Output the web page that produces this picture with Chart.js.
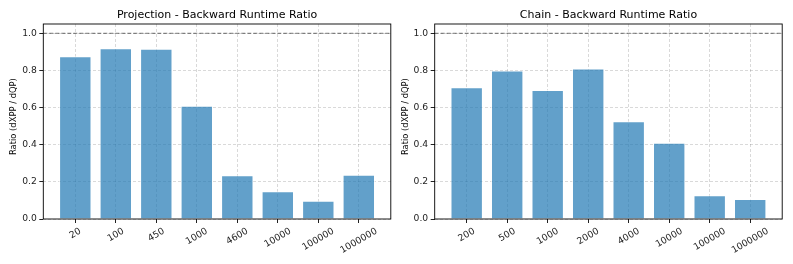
<!DOCTYPE html>
<html>
<head>
<meta charset="UTF-8">
<title>Backward Runtime Ratio</title>
<script src="https://cdn.jsdelivr.net/npm/chart.js"></script>
<style>
  body { margin: 0; background: #fff; }
  .panel { position: absolute; top: 0; }
</style>
</head>
<body>
<div class="panel" style="left:0"><canvas id="projChart" width="396" height="264"></canvas></div>
<div class="panel" style="left:391px"><canvas id="chainChart" width="402" height="264"></canvas></div>
<script>
// values
const projSizes = ['20', '100', '450', '1000', '4600', '10000', '100000', '1000000'];
const projRatio = [0.877, 0.920, 0.917, 0.610, 0.235, 0.150, 0.098, 0.238];
const chainSizes = ['200', '500', '1000', '2000', '4000', '10000', '100000', '1000000'];
const chainRatio = [0.710, 0.800, 0.695, 0.810, 0.527, 0.410, 0.128, 0.108];
const yTicks = [0, 0.2, 0.4, 0.6, 0.8, 1.0];
const refRatio = 1.0;
const yMax = 1.05;
const yTitle = 'Ratio (dXPP / dQP)';

const FONT = '"DejaVu Sans", sans-serif';
const TICK_SIZE = 9.2;
const LABEL_SIZE = 8.4;

// matplotlib-like box around the axes
const framePlugin = {
  id: 'frame',
  afterDraw(chart) {
    const { ctx, chartArea: a } = chart;
    ctx.save();
    ctx.strokeStyle = '#000';
    ctx.lineWidth = 0.9;
    ctx.strokeRect(a.left, a.top, a.right - a.left, a.bottom - a.top);
    ctx.restore();
  }
};

// dashed reference line at ratio 1.0
const refLinePlugin = {
  id: 'refLine',
  afterDatasetsDraw(chart) {
    const { ctx, chartArea: a } = chart;
    const y = chart.scales.y.getPixelForValue(refRatio);
    ctx.save();
    ctx.strokeStyle = 'rgba(0,0,0,0.55)';
    ctx.lineWidth = 1;
    ctx.setLineDash([4, 2]);
    ctx.beginPath();
    ctx.moveTo(a.left, y);
    ctx.lineTo(a.right, y);
    ctx.stroke();
    ctx.restore();
  }
};

// rotated x labels centred on the tick, plus the y title
const labelPlugin = {
  id: 'axisLabels',
  afterDraw(chart) {
    const ctx = chart.ctx;
    const xs = chart.scales.x;
    const a = chart.chartArea;
    const ang = Math.PI / 6;
    ctx.save();
    ctx.font = TICK_SIZE + 'px ' + FONT;
    ctx.fillStyle = '#222';
    ctx.textAlign = 'center';
    ctx.textBaseline = 'middle';
    chart.data.labels.forEach((lab, i) => {
      const w = ctx.measureText(lab).width;
      const h = TICK_SIZE * 1.16;
      const boxH = w * Math.sin(ang) + h * Math.cos(ang);
      ctx.save();
      ctx.translate(xs.getPixelForValue(i), a.bottom + 7 + boxH / 2);
      ctx.rotate(-ang);
      ctx.fillText(lab, 0, 0);
      ctx.restore();
    });

    ctx.font = LABEL_SIZE + 'px ' + FONT;
    ctx.fillStyle = '#000';
    ctx.translate(a.left - 29, a.top + (a.bottom - a.top) * 0.475);
    ctx.rotate(-Math.PI / 2);
    ctx.fillText(yTitle, 0, 0);
    ctx.restore();
  }
};

function makeChart(id, title, labels, values, yWidth, padRight) {
  const n = labels.length;
  // matplotlib default x margins for bars of width 0.8
  const xMin = -0.4 - 0.05 * (n - 0.2);
  const xMax = n - 0.6 + 0.05 * (n - 0.2);

  return new Chart(document.getElementById(id), {
    type: 'bar',
    data: {
      labels: labels,
      datasets: [{
        data: values.map((v, i) => ({ x: i, y: v })),
        backgroundColor: 'rgba(31,119,180,0.7)',
        borderColor: 'rgba(255,255,255,0.7)',
        borderWidth: 1,
        barPercentage: 0.8,
        categoryPercentage: 1
      }]
    },
    options: {
      responsive: false,
      animation: false,
      devicePixelRatio: 1,
      layout: { padding: { left: 0, right: padRight, top: 0, bottom: 0 } },
      plugins: {
        legend: { display: false },
        tooltip: { enabled: false },
        title: {
          display: true,
          text: title,
          fullSize: false,
          color: '#000',
          font: { family: FONT, size: 11, weight: 'normal', lineHeight: 1.2 },
          padding: { top: 9, bottom: 1.8 }
        }
      },
      scales: {
        x: {
          type: 'linear',
          min: xMin,
          max: xMax,
          offset: false,
          afterBuildTicks: s => { s.ticks = labels.map((_, i) => ({ value: i })); },
          afterFit: s => { s.height = 45; },
          ticks: { display: false },
          grid: {
            offset: false,
            color: 'rgba(0,0,0,0.15)',
            tickColor: '#222',
            tickLength: 4,
            tickBorderDash: []
          },
          border: { display: false, dash: [3, 2] }
        },
        y: {
          min: 0,
          max: yMax,
          afterBuildTicks: s => { s.ticks = yTicks.map(v => ({ value: v })); },
          afterFit: s => { s.width = yWidth; },
          ticks: {
            color: '#222',
            padding: 2.5,
            font: { family: FONT, size: TICK_SIZE },
            callback: v => v.toFixed(1)
          },
          grid: {
            color: 'rgba(0,0,0,0.15)',
            tickColor: '#222',
            tickLength: 4,
            tickBorderDash: []
          },
          border: { display: false, dash: [3, 2] }
        }
      }
    },
    plugins: [framePlugin, refLinePlugin, labelPlugin]
  });
}

makeChart('projChart', 'Projection - Backward Runtime Ratio', projSizes, projRatio, 43.3, 5.2);
makeChart('chainChart', 'Chain - Backward Runtime Ratio', chainSizes, chainRatio, 43.7, 10.8);
</script>
</body>
</html>
